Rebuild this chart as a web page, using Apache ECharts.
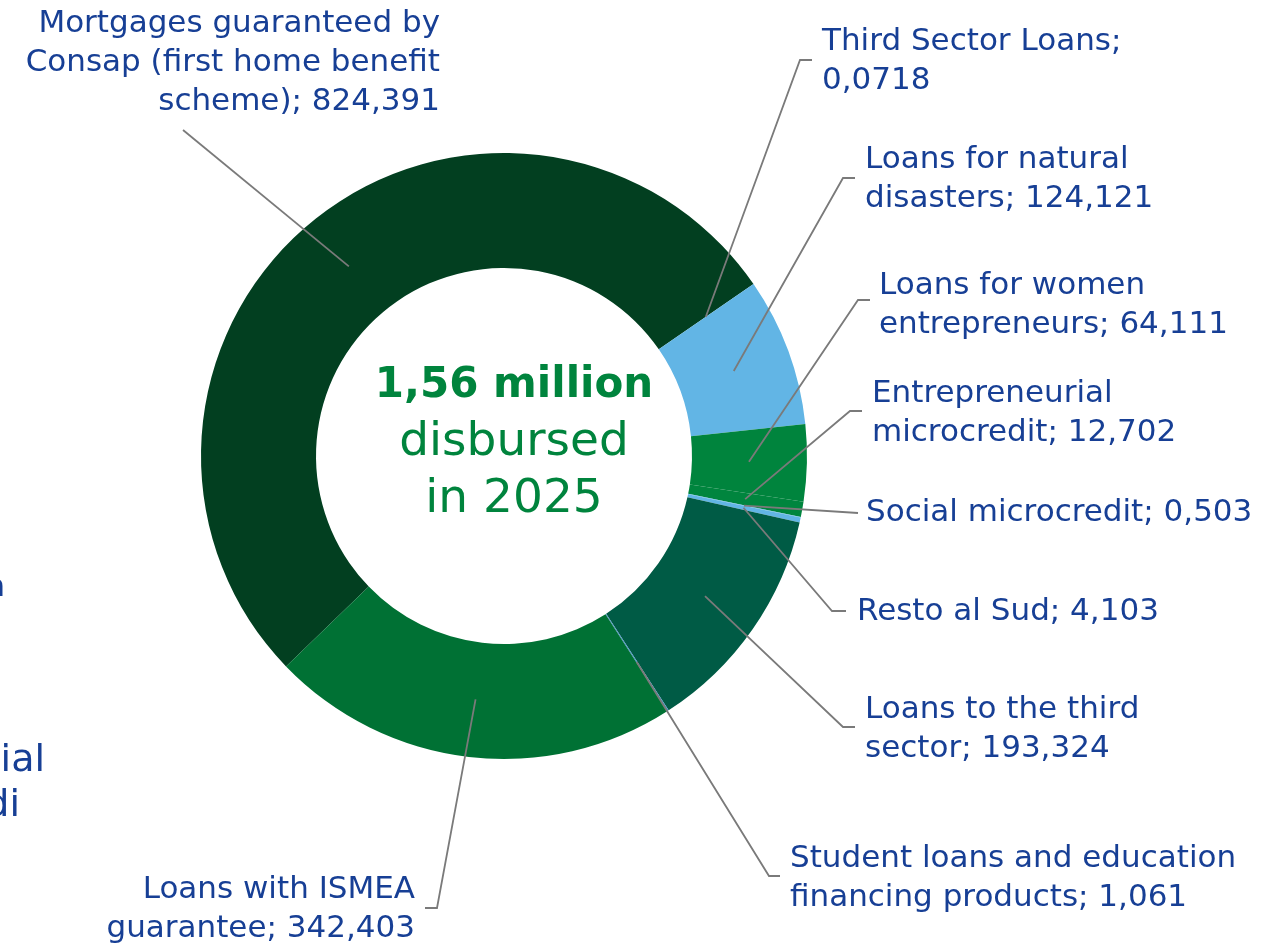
<!DOCTYPE html>
<html lang="en">
<head>
<meta charset="UTF-8">
<title>Disbursed 2025</title>
<script src="https://cdn.jsdelivr.net/npm/echarts@6/dist/echarts.min.js"></script>
<style>
  html, body { margin: 0; padding: 0; background: #fff; }
  #main { width: 1263px; height: 946px; }
</style>
</head>
<body>
<div id="main"></div>
<script>
// categories (line breaks as in the picture) and values
var categories = [
  'Mortgages guaranteed by\nConsap (first home benefit\nscheme)',
  'Third Sector Loans;\n',
  'Loans for natural\ndisasters',
  'Loans for women\nentrepreneurs',
  'Entrepreneurial\nmicrocredit',
  'Social microcredit',
  'Resto al Sud',
  'Loans to the third\nsector',
  'Student loans and education\nfinancing products',
  'Loans with ISMEA\nguarantee'
];
var values = [824.391, 0.0718, 124.121, 64.111, 12.702, 0.503, 4.103, 193.324, 1.061, 342.403];
var colors = ['#023f20', '#023f20', '#62b5e5', '#00843d', '#00853e', '#62b5e5', '#62b5e5', '#005b45', '#4a94c8', '#007134'];

// where each label sits: [x, y centre, align, elbow x, elbow y, end x, end y]
var labelPos = [
  [440, 63, 'right', 183, 130, 183, 130],
  [822, 61, 'left', 800, 60, 812, 60],
  [865, 179, 'left', 843, 178, 855, 178],
  [879, 305, 'left', 858, 300, 870, 300],
  [872, 413, 'left', 850, 411, 862, 411],
  [866, 513, 'left', 858, 513, 858, 513],
  [857, 612, 'left', 832, 611, 846, 611],
  [865, 729, 'left', 843, 727, 855, 727],
  [790, 878, 'left', 769, 876, 780, 876],
  [415, 909, 'right', 437, 908, 425, 908]
];

var fontName = 'DejaVu Sans';
var labelColor = '#173f95';

var data = categories.map(function (c, i) {
  return { name: c, value: values[i], itemStyle: { color: colors[i] } };
});

var chart = echarts.init(document.getElementById('main'));
chart.setOption({
  animation: false,
  graphic: [
    {
      type: 'text', x: 514, y: 443, z: 10,
      style: {
        text: '{b|1,56 million}\n{r|disbursed}\n{r|in 2025}',
        align: 'center', verticalAlign: 'middle',
        rich: {
          b: { fontFamily: fontName, fontWeight: 'bold', fontSize: 42, lineHeight: 57, fill: '#00843d' },
          r: { fontFamily: fontName, fontSize: 47, lineHeight: 57, fill: '#00843d' }
        }
      }
    },
    // cut off text from the neighbouring slide
    { type: 'text', x: 5, y: 588, style: { text: 'n', align: 'right', verticalAlign: 'middle', fontFamily: fontName, fontSize: 30, fill: labelColor } },
    { type: 'text', x: 45, y: 761, style: { text: 'ial', align: 'right', verticalAlign: 'middle', fontFamily: fontName, fontSize: 38, fill: labelColor } },
    { type: 'text', x: 20, y: 806, style: { text: 'di', align: 'right', verticalAlign: 'middle', fontFamily: fontName, fontSize: 38, fill: labelColor } }
  ],
  series: [
    {
      type: 'pie',
      z: 2,
      center: [504, 456],
      radius: [188, 303],
      startAngle: 224,
      clockwise: true,
      silent: true,
      label: { show: false },
      labelLine: { show: false },
      data: data
    },
    {
      // transparent helper ring, only carries the labels and leader lines
      type: 'pie',
      z: 5,
      center: [504, 456],
      radius: [0, 245],
      startAngle: 224,
      clockwise: true,
      silent: true,
      itemStyle: { color: 'rgba(0,0,0,0)' },
      label: {
        show: true,
        position: 'outside',
        overflow: 'none',
        fontFamily: fontName,
        fontSize: 31,
        lineHeight: 39,
        color: labelColor,
        formatter: function (p) {
          var v = String(p.value).replace('.', ',');
          if (p.name.slice(-1) === '\n') return p.name + v;
          return p.name + '; ' + v;
        }
      },
      labelLine: { show: true, length: 10, length2: 10, lineStyle: { color: '#7a7a7a', width: 1.8 } },
      labelLayout: function (params) {
        var lp = labelPos[params.dataIndex];
        var pts = params.labelLinePoints;
        var start = pts ? pts[0] : [0, 0];
        return {
          x: lp[0], y: lp[1], align: lp[2], verticalAlign: 'middle',
          labelLinePoints: [start, [lp[3], lp[4]], [lp[5], lp[6]]]
        };
      },
      data: data.map(function (d) { return { name: d.name, value: d.value }; })
    }
  ]
});
</script>
</body>
</html>
